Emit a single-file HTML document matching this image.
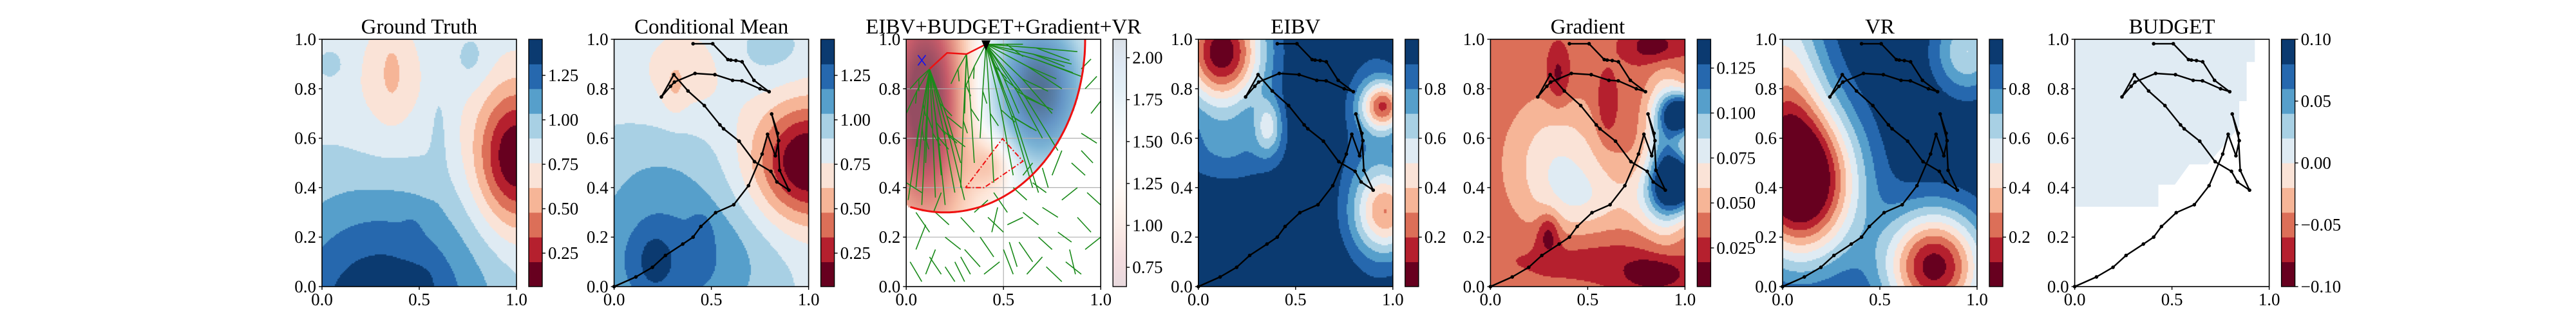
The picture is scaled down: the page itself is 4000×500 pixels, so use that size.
<!DOCTYPE html>
<html><head><meta charset="utf-8">
<style>
html,body{margin:0;padding:0;background:#fff;}
#wrap{position:relative;width:4000px;height:500px;overflow:hidden;background:#fff;}
canvas{position:absolute;}
svg{position:absolute;left:0;top:0;}
text{font-family:"Liberation Serif",serif;fill:#000;}
</style></head>
<body>
<div id="wrap">
<svg id="ov" width="4000" height="500"></svg>
</div>
<script>
// ---------- data ----------
const panelTitles = ["Ground Truth","Conditional Mean","EIBV+BUDGET+Gradient+VR","EIBV","Gradient","VR","BUDGET"];
const xTicks = [0,0.5,1];
const xTickLabels = ["0.0","0.5","1.0"];
const yTicks = [0,0.2,0.4,0.6,0.8,1];
const yTickLabels = ["0.0","0.2","0.4","0.6","0.8","1.0"];
const RdBu10 = ["#67001f","#b5202e","#dc6f58","#f6b597","#fae3d7","#dfebf3","#a8d0e4","#569fcb","#2668ae","#0b3a70"];
const RdBuAnchors = ["#67001f","#b2182b","#d6604d","#f4a582","#fddbc7","#f7f7f7","#d1e5f0","#92c5de","#4393c3","#2166ac","#053061"];

// field ranges [vmin, vmax]
const gtRange = [0.062,1.453];
const cmRange = [0.062,1.453];
const eibvRange = [0.0,1.0];
const gradRange = [0.0035,0.141];
const vrRange = [0.0,1.0];
const budgetRange = [-0.1,0.1];
const comboRange = [0.635,2.11];

// colorbar ticks
const cbTicksMean = [0.25,0.5,0.75,1.0,1.25];
const cbLabelsMean = ["0.25","0.50","0.75","1.00","1.25"];
const cbTicksCombo = [0.75,1.0,1.25,1.5,1.75,2.0];
const cbLabelsCombo = ["0.75","1.00","1.25","1.50","1.75","2.00"];
const cbTicksProb = [0.2,0.4,0.6,0.8];
const cbLabelsProb = ["0.2","0.4","0.6","0.8"];
const cbTicksGrad = [0.025,0.05,0.075,0.1,0.125];
const cbLabelsGrad = ["0.025","0.050","0.075","0.100","0.125"];
const cbTicksBudget = [-0.1,-0.05,0,0.05,0.1];
const cbLabelsBudget = ["\u22120.10","\u22120.05","0.00","0.05","0.10"];

// field bumps [cx, cy, sx, sy, amp]
const gtBase = 0.83;
const gtBumps = [[1.0,0.52,0.15,0.2,-0.8],[0.35,0.8,0.15,0.2,-0.15],[0.36,0.88,0.05,0.12,-0.12],
 [0.3,-0.1,0.4,0.35,0.6],[0.46,0.21,0.03,0.04,0.1],[0.5,0.02,0.05,0.04,0.1],
 [0.05,0.9,0.06,0.05,0.12],[0.77,0.92,0.07,0.08,0.12],[0.6,0.65,0.03,0.15,0.1]];
const cmBase = 0.83;
const cmBumps = [[1.0,0.5,0.2,0.17,-0.82],[0.36,0.86,0.16,0.13,-0.15],[0.31,0.8,0.04,0.08,-0.12],
 [0.3,0.1,0.35,0.22,0.42],[0.2,0.1,0.07,0.1,0.15],[0.45,0.22,0.04,0.06,0.12],
 [0.2,0.5,0.3,0.15,0.12],[0.8,0.95,0.15,0.1,0.12]];
const eibvBase = 1.0;
const eibvBumps = [[0.12,0.95,0.15,0.16,-0.98],[0.36,0.65,0.05,0.08,-0.35],[0.15,0.55,0.2,0.1,-0.18],
 [0.95,0.73,0.08,0.07,-0.7],[0.97,0.3,0.12,0.12,-0.6],[0.9,0.55,0.12,0.35,-0.15]];
const gradBase = 0.035;
const gradBumps = [[0.35,0.5,0.18,0.18,0.035],[0.5,0.35,0.15,0.1,0.02],[1.0,0.7,0.08,0.06,0.11],
 [1.0,0.42,0.1,0.08,0.1],[0.9,0.55,0.07,0.2,0.06],[0.85,0.35,0.12,0.1,0.03],
 [0.3,0.22,0.04,0.06,-0.03],[0.85,0.05,0.12,0.05,-0.03],[0.85,0.97,0.1,0.05,-0.03],
 [0.35,0.85,0.04,0.08,-0.025],[0.6,0.72,0.04,0.1,-0.02],[0.5,0.12,0.3,0.07,-0.012]];
const vrBase = 1.0;
const vrBumps = [[0.1,0.42,0.2,0.22,-1.1],[0.78,0.08,0.18,0.16,-0.95],[0.0,0.85,0.15,0.3,-0.5],[0.95,0.95,0.12,0.12,-0.4]];
const comboBase = 1.3;
const comboBumps = [[0.1,0.75,0.16,0.35,-0.75],[0.68,0.8,0.2,0.25,0.8],[0.45,0.5,0.08,0.08,-0.3]];
const comboEllipse = [0.2,1.0,0.72,0.7];

const budgetRegion = [[0,1],[0.926,1],[0.926,0.908],[0.884,0.908],[0.884,0.75],[0.846,0.75],[0.846,0.646],
 [0.684,0.494],[0.59,0.494],[0.515,0.412],[0.43,0.412],[0.43,0.373],[0.43,0.323],[0,0.323]];

// agent path
const pathX = [0,0.112,0.197,0.264,0.353,0.406,0.446,0.522,0.615,0.691,0.761,0.789,0.829,0.846,0.810,0.841,0.851,0.899,0.837,0.806,0.722,0.643,0.563,0.544,0.464,0.380,0.307,0.243,0.290,0.310,0.416,0.518,0.609,0.657,0.750,0.797,0.719,0.658,0.626,0.600,0.585,0.507,0.406];
const pathY = [0,0.039,0.078,0.126,0.172,0.2,0.243,0.299,0.331,0.408,0.536,0.616,0.529,0.590,0.698,0.620,0.470,0.390,0.423,0.466,0.505,0.588,0.638,0.654,0.732,0.791,0.857,0.767,0.810,0.827,0.862,0.857,0.834,0.832,0.800,0.788,0.834,0.909,0.914,0.916,0.918,0.982,0.982];

// combo panel overlays
const redPathX = [0.12,0.21,0.31,0.41];
const redPathY = [0.88,0.945,0.94,0.98];
const triX = [0.305,0.4,0.6,0.495,0.305];
const triY = [0.4,0.4,0.507,0.598,0.4];
const fanARoot = [0.12,0.88];
const fanAEnds = [[0.01,0.35],[0.05,0.4],[0.08,0.33],[0.15,0.36],[0.2,0.33],[0.25,0.38],[0.28,0.5],[0.0,0.7],[0.02,0.8],[0.06,0.6],[0.18,0.45],[0.3,0.35],[0.1,0.5],[0.22,0.6]];
const fanCRoot = [0.31,0.94];
const fanCEnds = [[0.23,0.82],[0.3,0.7],[0.35,0.5],[0.28,0.4]];
const fanBRoot = [0.41,0.98];
const fanBEnds = [[0.3,0.8],[0.38,0.6],[0.45,0.42],[0.55,0.45],[0.65,0.4],[0.7,0.6],[0.8,0.8],[0.88,0.95],[0.9,0.85],[0.6,0.98],[0.75,0.7],[0.85,0.9],[0.68,0.38],[0.58,0.7],[0.5,0.8],[0.78,0.55]];
const scatterSegs = [[0.0,0.42,0.08,0.38],[0.05,0.3,0.12,0.22],[0.1,0.25,0.05,0.15],[0.02,0.1,0.08,0.02],[0.12,0.12,0.18,0.05],[0.15,0.3,0.22,0.25],[0.2,0.2,0.28,0.15],[0.25,0.1,0.3,0.02],[0.28,0.28,0.35,0.22],[0.3,0.15,0.38,0.08],[0.35,0.3,0.42,0.35],[0.38,0.2,0.45,0.12],[0.4,0.05,0.48,0.1],[0.42,0.28,0.5,0.22],[0.45,0.38,0.52,0.3],[0.5,0.15,0.55,0.05],[0.52,0.25,0.6,0.28],[0.55,0.4,0.62,0.35],[0.58,0.18,0.65,0.1],[0.6,0.3,0.68,0.25],[0.62,0.05,0.7,0.12],[0.65,0.42,0.72,0.38],[0.68,0.2,0.75,0.15],[0.7,0.32,0.78,0.28],[0.72,0.08,0.8,0.02],[0.75,0.45,0.8,0.55],[0.78,0.22,0.85,0.18],[0.8,0.35,0.88,0.4],[0.82,0.1,0.9,0.05],[0.85,0.5,0.92,0.45],[0.88,0.28,0.95,0.22],[0.9,0.62,0.98,0.58],[0.92,0.15,1.0,0.2],[0.93,0.38,1.0,0.33],[0.95,0.7,1.0,0.75],[0.96,0.5,0.9,0.55],[0.1,0.05,0.15,0.15],[0.33,0.05,0.28,0.12],[0.47,0.32,0.44,0.22],[0.57,0.08,0.53,0.18],[0.73,0.4,0.7,0.48],[0.87,0.05,0.84,0.15],[0.6,0.45,0.65,0.5],[0.18,0.38,0.14,0.3],[0.25,0.02,0.2,0.08],[0.92,0.8,0.98,0.85],[0.95,0.92,0.9,0.88]];

// ---------- layout ----------
const AX_W = 302, AX_TOP = 61, AX_BOT = 445, AX_H = AX_BOT - AX_TOP;
const lefts = [0,1,2,3,4,5,6].map(i => 500 + i*453.6);
function sx(p, x){ return lefts[p] + x*AX_W; }
function sy(y){ return AX_BOT - y*AX_H; }
function cbY(v, r){ return AX_BOT - (v - r[0])/(r[1]-r[0])*AX_H; }

const NS = "http://www.w3.org/2000/svg";
const svg = document.getElementById('ov');
const wrap = document.getElementById('wrap');
function mk(tag, attrs, parent){
  const e = document.createElementNS(NS, tag);
  for (const k in attrs) e.setAttribute(k, attrs[k]);
  (parent||svg).appendChild(e);
  return e;
}
function hex(h){ return [parseInt(h.slice(1,3),16),parseInt(h.slice(3,5),16),parseInt(h.slice(5,7),16)]; }
function field(base, bumps, x, y){
  let v = base;
  for (const b of bumps) v += b[4]*Math.exp(-((x-b[0])**2/(2*b[2]*b[2]) + (y-b[1])**2/(2*b[3]*b[3])));
  return v;
}
function rdbuCont(t){
  t = Math.max(0, Math.min(1, t));
  const f = t*10, i = Math.min(9, Math.floor(f)), u = f - i;
  const a = hex(RdBuAnchors[i]), b = hex(RdBuAnchors[i+1]);
  return [0,1,2].map(k => a[k] + (b[k]-a[k])*u);
}

function makeCanvas(p, name){
  const c = document.createElement('canvas');
  c.width = AX_W; c.height = AX_H;
  c.style.left = lefts[p] + 'px'; c.style.top = AX_TOP + 'px';
  
  
  wrap.insertBefore(c, svg);
  return c.getContext('2d');
}
function drawContour(p, base, bumps, range, name){
  const ctx = makeCanvas(p, name);
  const step = 2;
  for (let py = 0; py < AX_H; py += step){
    for (let px = 0; px < AX_W; px += step){
      const x = (px + 1)/AX_W, y = 1 - (py + 1)/AX_H;
      const v = field(base, bumps, x, y);
      let k = Math.floor((v - range[0])/(range[1]-range[0])*10);
      k = Math.max(0, Math.min(9, k));
      ctx.fillStyle = RdBu10[k];
      ctx.fillRect(px, py, step, step);
    }
  }
}
function drawCombo(p){
  const ctx = makeCanvas(p, 'heatmap-combined-objective');
  const step = 3;
  for (let py = 0; py < AX_H; py += step){
    for (let px = 0; px < AX_W; px += step){
      const x = (px + 1)/AX_W, y = 1 - (py + 1)/AX_H;
      const e = ((x-comboEllipse[0])/comboEllipse[2])**2 + ((y-comboEllipse[1])/comboEllipse[3])**2;
      if (e > 1) continue;
      const v = field(comboBase, comboBumps, x, y);
      const c = rdbuCont((v - comboRange[0])/(comboRange[1]-comboRange[0]));
      const a = 0.7;
      const r = c.map(q => Math.round(q*a + 255*(1-a)));
      ctx.fillStyle = `rgb(${r[0]},${r[1]},${r[2]})`;
      ctx.fillRect(px, py, step, step);
    }
  }
}

drawContour(0, gtBase, gtBumps, gtRange, 'heatmap-ground-truth');
drawContour(1, cmBase, cmBumps, cmRange, 'heatmap-conditional-mean');
drawCombo(2);
drawContour(3, eibvBase, eibvBumps, eibvRange, 'heatmap-eibv');
drawContour(4, gradBase, gradBumps, gradRange, 'heatmap-gradient');
drawContour(5, vrBase, vrBumps, vrRange, 'heatmap-vr');

// budget region
{
  const pts = budgetRegion.map(q => sx(6,q[0]).toFixed(1)+','+sy(q[1]).toFixed(1)).join(' ');
  const e = mk('polygon', {points: pts, fill: '#e0ebf3'});
  
  
}

// combo panel grid + overlays
{
  const p = 2;
  const g = mk('g', {});
  
  
  mk('line', {x1: sx(p,0.5), y1: sy(0), x2: sx(p,0.5), y2: sy(1), stroke: '#b0b0b0', 'stroke-width': 1.2}, g);
  for (const t of [0.2,0.4,0.6,0.8]) mk('line', {x1: sx(p,0), y1: sy(t), x2: sx(p,1), y2: sy(t), stroke: '#b0b0b0', 'stroke-width': 1.2}, g);

  const tree = mk('g', {stroke: '#1a8a1a', 'stroke-width': 1.6, fill: 'none'});
  
  
  const fans = [[fanARoot, fanAEnds],[fanCRoot, fanCEnds],[fanBRoot, fanBEnds]];
  for (const [root, ends] of fans){
    for (const e of ends){
      const mx = (root[0]+e[0])/2 + (e[0]-root[0])*0.05, my = (root[1]+e[1])/2;
      mk('polyline', {points: `${sx(p,root[0])},${sy(root[1])} ${sx(p,mx)},${sy(my)} ${sx(p,e[0])},${sy(e[1])}`}, tree);
      mk('line', {x1: sx(p,mx), y1: sy(my), x2: sx(p,mx + (e[0]-root[0])*0.3 + 0.03), y2: sy(my - 0.05)}, tree);
    }
  }
  for (const s of scatterSegs){
    mk('line', {x1: sx(p,s[0]), y1: sy(s[1]), x2: sx(p,s[2]), y2: sy(s[3])}, tree);
  }

  let d = '';
  for (let i = 0; i <= 100; i++){
    const th = Math.PI + i/100*Math.PI;
    const x = comboEllipse[0] + comboEllipse[2]*Math.cos(th);
    const y = comboEllipse[1] + comboEllipse[3]*Math.sin(th);
    if (x < 0 || x > 1 || y > 1) continue;
    d += (d ? ' L' : 'M') + sx(p,x).toFixed(1) + ',' + sy(y).toFixed(1);
  }
  const el = mk('path', {d: d, stroke: '#ee1111', 'stroke-width': 3, fill: 'none'});
  
  

  const tri = mk('polyline', {points: triX.map((x,i) => sx(p,x)+','+sy(triY[i])).join(' '), stroke: '#ee1111', 'stroke-width': 2, fill: 'none', 'stroke-dasharray': '8,3,2,3'});
  
  

  const rp = mk('polyline', {points: redPathX.map((x,i) => sx(p,x)+','+sy(redPathY[i])).join(' '), stroke: '#ee1111', 'stroke-width': 2.5, fill: 'none'});
  
  

  const cx = sx(p,0.08), cy = sy(0.915);
  const xm = mk('path', {d: `M${cx-6},${cy-8} L${cx+6},${cy+8} M${cx+6},${cy-8} L${cx-6},${cy+8}`, stroke: '#1111ee', 'stroke-width': 1.6});
  
  
  const tx = sx(p,0.41), ty = sy(0.975);
  const tm = mk('polygon', {points: `${tx-7},${ty-8} ${tx+7},${ty-8} ${tx},${ty+8}`, fill: '#000'});
  
  
}

// agent paths
for (const p of [1,3,4,5,6]){
  const g = mk('g', {});
  
  
  mk('polyline', {points: pathX.map((x,i) => sx(p,x).toFixed(1)+','+sy(pathY[i]).toFixed(1)).join(' '), stroke: '#000', 'stroke-width': 2.4, fill: 'none', 'stroke-linejoin': 'round'}, g);
  pathX.forEach((x,i) => {
    const c = mk('circle', {cx: sx(p,x), cy: sy(pathY[i]), r: 2.8, fill: '#000'}, g);
    
    
  });
}

// axes, ticks, titles
const cbConf = [
  [gtRange, cbTicksMean, cbLabelsMean, 'discrete'],
  [cmRange, cbTicksMean, cbLabelsMean, 'discrete'],
  [comboRange, cbTicksCombo, cbLabelsCombo, 'continuous'],
  [eibvRange, cbTicksProb, cbLabelsProb, 'discrete'],
  [gradRange, cbTicksGrad, cbLabelsGrad, 'discrete'],
  [vrRange, cbTicksProb, cbLabelsProb, 'discrete'],
  [budgetRange, cbTicksBudget, cbLabelsBudget, 'discrete']
];
const defs = mk('defs', {});
const lg = mk('linearGradient', {id: 'comboGrad', x1: 0, y1: 1, x2: 0, y2: 0}, defs);
for (let i = 0; i <= 10; i++){
  const c = hex(RdBuAnchors[i]).map(q => Math.round(q*0.15 + 255*0.85));
  mk('stop', {offset: (i/10), 'stop-color': `rgb(${c[0]},${c[1]},${c[2]})`}, lg);
}

for (let p = 0; p < 7; p++){
  const L = lefts[p];
  const t = mk('text', {x: L + AX_W/2, y: 52, 'font-size': 33, 'text-anchor': 'middle'});
  t.textContent = panelTitles[p];
  
  

  const fr = mk('rect', {x: L, y: AX_TOP, width: AX_W, height: AX_H, fill: 'none', stroke: '#000', 'stroke-width': 1.6});
  
  

  xTicks.forEach((v,i) => {
    mk('line', {x1: sx(p,v), y1: AX_BOT, x2: sx(p,v), y2: AX_BOT+5, stroke: '#000', 'stroke-width': 1.4});
    const e = mk('text', {x: sx(p,v), y: 474, 'font-size': 27, 'text-anchor': 'middle'});
    e.textContent = xTickLabels[i];
    
    
  });
  yTicks.forEach((v,i) => {
    mk('line', {x1: L-5, y1: sy(v), x2: L, y2: sy(v), stroke: '#000', 'stroke-width': 1.4});
    const e = mk('text', {x: L-9, y: sy(v)+9, 'font-size': 27, 'text-anchor': 'end'});
    e.textContent = yTickLabels[i];
    
    
  });

  const [r, ticks, labels, kind] = cbConf[p];
  const cx0 = L + AX_W + 19, cw = 21;
  const cb = mk('g', {});
  
  
  if (kind === 'discrete'){
    for (let k = 0; k < 10; k++){
      mk('rect', {x: cx0, y: AX_TOP + (9-k)*AX_H/10, width: cw, height: AX_H/10 + 0.5, fill: RdBu10[k]}, cb);
    }
  } else {
    mk('rect', {x: cx0, y: AX_TOP, width: cw, height: AX_H, fill: 'url(#comboGrad)'}, cb);
  }
  mk('rect', {x: cx0, y: AX_TOP, width: cw, height: AX_H, fill: 'none', stroke: '#000', 'stroke-width': 1.4}, cb);
  ticks.forEach((v,i) => {
    const y = cbY(v, r);
    mk('line', {x1: cx0+cw, y1: y, x2: cx0+cw+5, y2: y, stroke: '#000', 'stroke-width': 1.4}, cb);
    const e = mk('text', {x: cx0+cw+9, y: y+9, 'font-size': 27}, cb);
    e.textContent = labels[i];
    
    
  });
}
</script>
</body></html>
